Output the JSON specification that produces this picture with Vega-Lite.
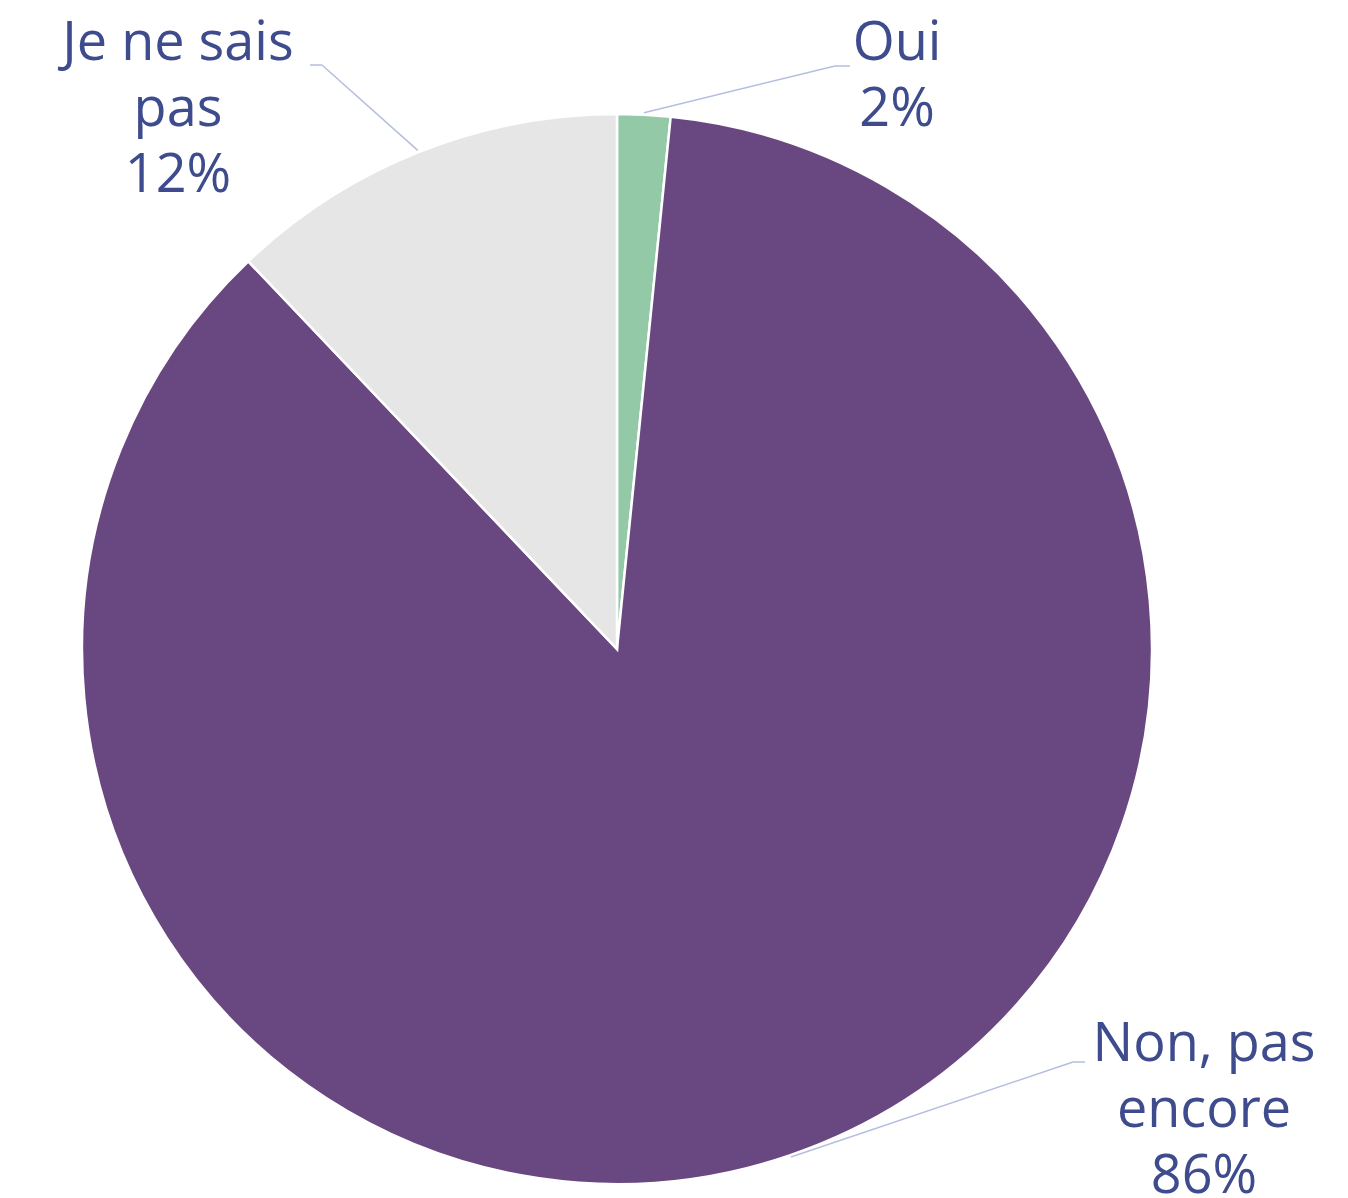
{
  "$schema": "https://vega.github.io/schema/vega-lite/v6.json",
  "width": 1234,
  "height": 1098,
  "autosize": "none",
  "padding": {"left": 0, "right": 114, "top": 100, "bottom": 0},
  "background": "white",
  "config": {"view": {"stroke": null}},
  "data": {
    "values": [
      {"category": "Oui", "label": "Oui", "value": 1.6},
      {"category": "Non, pas encore", "label": "Non, pas\nencore", "value": 86.3},
      {"category": "Je ne sais pas", "label": "Je ne sais\npas", "value": 12.1}
    ]
  },
  "transform": [
    {"calculate": "indexof(['Oui','Non, pas encore','Je ne sais pas'], datum.category)", "as": "ord"},
    {"joinaggregate": [{"op": "sum", "field": "value", "as": "total"}]},
    {"window": [{"op": "sum", "field": "value", "as": "cum"}], "sort": [{"field": "ord"}], "frame": [null, 0]},
    {"calculate": "(datum.cum - datum.value / 2) / datum.total * 2 * PI", "as": "mid"},
    {"calculate": "537 * sin(datum.mid)", "as": "sx"},
    {"calculate": "537 * cos(datum.mid)", "as": "sy"},
    {"calculate": "datum.category === 'Oui' ? 218 : datum.category === 'Je ne sais pas' ? -295 : 456", "as": "ex"},
    {"calculate": "datum.category === 'Oui' ? 583 : datum.category === 'Je ne sais pas' ? 584 : -413", "as": "ey"},
    {"calculate": "datum.category === 'Oui' ? 233 : datum.category === 'Je ne sais pas' ? -307 : 468", "as": "tx"},
    {"calculate": "datum.category === 'Oui' ? 280 : datum.category === 'Je ne sais pas' ? -439 : 587", "as": "lx"},
    {"calculate": "datum.category === 'Non, pas encore' ? -412 : 589", "as": "ly"},
    {"calculate": "datum.label + '\\n' + format(datum.value, '.0f') + '%'", "as": "txt"}
  ],
  "layer": [
    {
      "mark": {"type": "arc", "outerRadius": 535, "stroke": "white", "strokeWidth": 2.5},
      "encoding": {
        "theta": {"field": "value", "type": "quantitative", "stack": true},
        "order": {"field": "ord", "type": "quantitative"},
        "color": {
          "field": "category",
          "type": "nominal",
          "sort": ["Oui", "Non, pas encore", "Je ne sais pas"],
          "scale": {"domain": ["Oui", "Non, pas encore", "Je ne sais pas"], "range": ["#93C9A6", "#694881", "#E6E6E6"]},
          "legend": null
        }
      }
    },
    {
      "mark": {"type": "rule", "color": "#B4BEE0", "strokeWidth": 1.5},
      "encoding": {
        "x": {"field": "sx", "type": "quantitative", "scale": {"domain": [-617, 617], "nice": false, "zero": false}, "axis": null},
        "y": {"field": "sy", "type": "quantitative", "scale": {"domain": [-549, 549], "nice": false, "zero": false}, "axis": null},
        "x2": {"field": "ex"},
        "y2": {"field": "ey"}
      }
    },
    {
      "mark": {"type": "rule", "color": "#B4BEE0", "strokeWidth": 1.5},
      "encoding": {
        "x": {"field": "ex", "type": "quantitative", "scale": {"domain": [-617, 617], "nice": false, "zero": false}, "axis": null},
        "y": {"field": "ey", "type": "quantitative", "scale": {"domain": [-549, 549], "nice": false, "zero": false}, "axis": null},
        "x2": {"field": "tx"},
        "y2": {"field": "ey"}
      }
    },
    {
      "mark": {"type": "text", "align": "center", "baseline": "alphabetic", "lineBreak": "\n", "lineHeight": 66, "font": "Open Sans", "fontSize": 54, "fontWeight": 500, "color": "#3E4C8E"},
      "encoding": {
        "x": {"field": "lx", "type": "quantitative", "scale": {"domain": [-617, 617], "nice": false, "zero": false}, "axis": null},
        "y": {"field": "ly", "type": "quantitative", "scale": {"domain": [-549, 549], "nice": false, "zero": false}, "axis": null},
        "text": {"field": "txt"}
      }
    }
  ]
}
